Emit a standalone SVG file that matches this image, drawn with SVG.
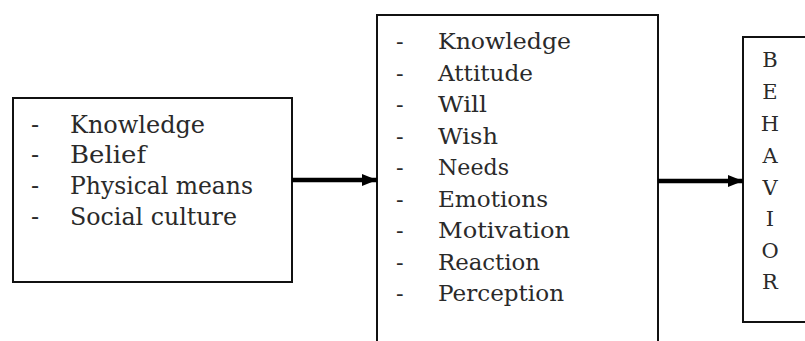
<svg xmlns="http://www.w3.org/2000/svg" width="805" height="341" viewBox="0 0 805 341">
<style>
.box{fill:#fff;stroke:#111;stroke-width:2}
.conn{stroke:#000;stroke-width:4.5;fill:none}
text{font-family:"DejaVu Serif",serif}
</style>
<defs>
<marker id="ah" markerUnits="userSpaceOnUse" markerWidth="16" markerHeight="14" refX="15" refY="7" orient="auto">
<path d="M0,1 L15,7 L0,13 Z" fill="#000"/>
</marker>
</defs>
<rect width="805" height="341" fill="#fff"/>
<g id="factors" font-size="24" fill="#2a2a2a">
<rect class="box" x="13" y="98" width="279" height="184"/>
<text x="31" y="133">-</text><text x="70" y="133" textLength="135" lengthAdjust="spacingAndGlyphs">Knowledge</text>
<text x="31" y="163">-</text><text x="70" y="163" textLength="76" lengthAdjust="spacingAndGlyphs">Belief</text>
<text x="31" y="194">-</text><text x="70" y="194" textLength="183" lengthAdjust="spacingAndGlyphs">Physical means</text>
<text x="31" y="225">-</text><text x="70" y="225" textLength="167" lengthAdjust="spacingAndGlyphs">Social culture</text>
</g>
<g id="internal" font-size="22.5" fill="#2a2a2a">
<rect class="box" x="377" y="15" width="281" height="340"/>
<text x="396" y="49">-</text><text x="438" y="49" textLength="133" lengthAdjust="spacingAndGlyphs">Knowledge</text>
<text x="396" y="81">-</text><text x="438" y="81" textLength="95" lengthAdjust="spacingAndGlyphs">Attitude</text>
<text x="396" y="112">-</text><text x="438" y="112" textLength="49" lengthAdjust="spacingAndGlyphs">Will</text>
<text x="396" y="144">-</text><text x="438" y="144" textLength="60" lengthAdjust="spacingAndGlyphs">Wish</text>
<text x="396" y="175">-</text><text x="438" y="175" textLength="71" lengthAdjust="spacingAndGlyphs">Needs</text>
<text x="396" y="207">-</text><text x="438" y="207" textLength="110" lengthAdjust="spacingAndGlyphs">Emotions</text>
<text x="396" y="238">-</text><text x="438" y="238" textLength="132" lengthAdjust="spacingAndGlyphs">Motivation</text>
<text x="396" y="270">-</text><text x="438" y="270" textLength="102" lengthAdjust="spacingAndGlyphs">Reaction</text>
<text x="396" y="301">-</text><text x="438" y="301" textLength="126" lengthAdjust="spacingAndGlyphs">Perception</text>
</g>
<g id="behavior" font-size="21" fill="#2a2a2a" text-anchor="middle">
<rect class="box" x="743" y="37" width="70" height="285"/>
<text x="770" y="67">B</text>
<text x="770" y="99">E</text>
<text x="770" y="131">H</text>
<text x="770" y="163">A</text>
<text x="770" y="195">V</text>
<text x="770" y="226">I</text>
<text x="770" y="258">O</text>
<text x="770" y="289">R</text>
</g>
<g id="connectors">
<line class="conn" x1="292" y1="180" x2="377" y2="180" marker-end="url(#ah)"/>
<line class="conn" x1="658" y1="181" x2="743" y2="181" marker-end="url(#ah)"/>
</g>
</svg>
